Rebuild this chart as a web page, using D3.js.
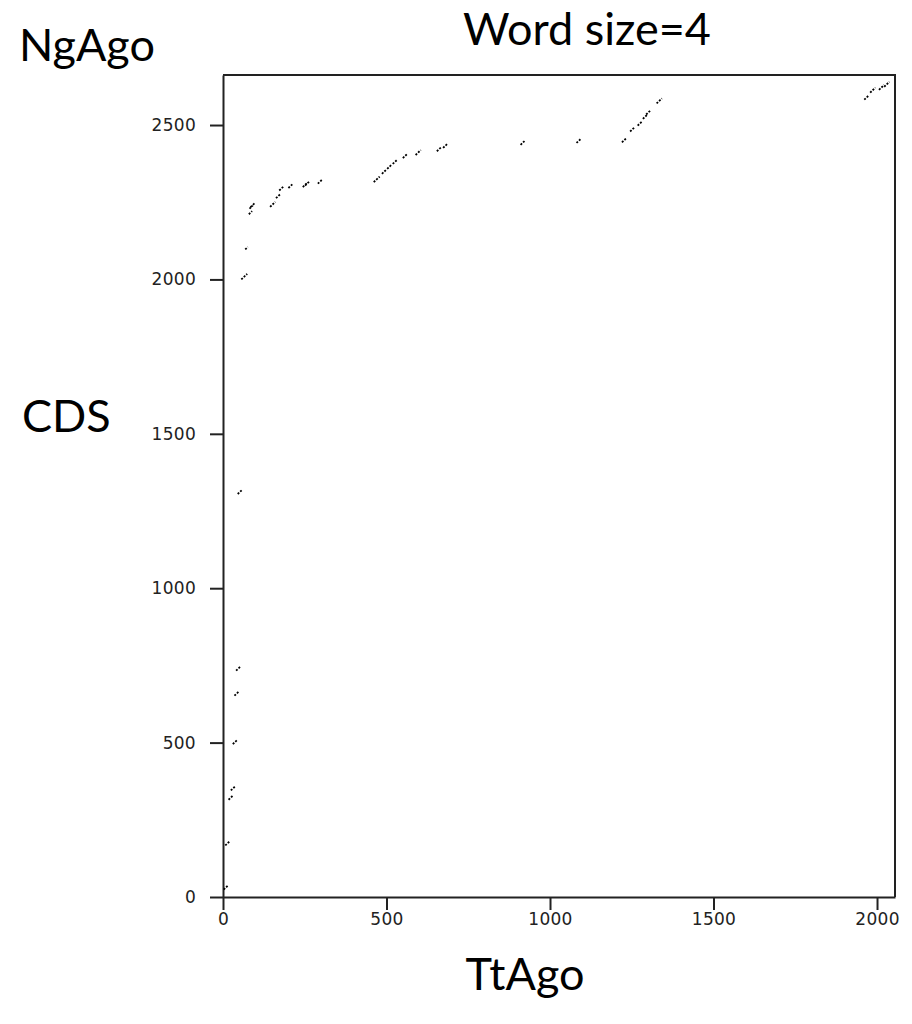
<!DOCTYPE html>
<html>
  <head>
    <meta charset="UTF-8"/>
    <script src="https://d3js.org/d3.v7.min.js"></script>
    <style>
      body{
        margin: 0;
        background: white;
      }
      .tick text{
        font-family: 'DejaVu Sans', sans-serif;
        font-size: 17px;
        letter-spacing: 0.3px;
        fill: #222;
      }
      .big{
        font-family: Lato, 'Open Sans', sans-serif;
        font-size: 45px;
        fill: black;
      }
    </style>
  </head>
  <body>
    <script>
      // word matches: start on TtAgo, start on NgAgo, length
      const matchX = [9, 14, 24, 31, 37, 42, 47, 52, 65, 72, 84, 86, 91, 152, 169, 179, 207, 251, 258, 297,
                      470, 493, 509, 526, 557, 597, 661, 680, 917, 1087, 1227, 1252, 1275, 1291, 1301, 1334,
                      1968, 1987, 2014, 2030];
      const matchY = [31, 174, 322, 352, 502, 659, 740, 1312, 2009, 2101, 2216, 2234, 2241, 2243, 2270, 2295, 2303, 2306, 2311, 2317,
                      2324, 2349, 2365, 2381, 2400, 2411, 2422, 2433, 2443, 2448, 2451, 2486, 2505, 2527, 2541, 2578,
                      2589, 2613, 2622, 2632];
      const matchLen = [14, 14, 14, 14, 14, 14, 14, 14, 18, 8, 10, 10, 14, 16, 14, 14, 14, 14, 14, 14,
                        18, 14, 14, 14, 14, 16, 14, 14, 14, 12, 14, 14, 14, 14, 14, 16,
                        14, 16, 16, 16];
      const xTicks = [0, 500, 1000, 1500, 2000];
      const yTicks = [0, 500, 1000, 1500, 2000, 2500];

      const width = 912, height = 1024;
      const plotLeft = 223, plotRight = 895, plotTop = 75, plotBottom = 897;

      const svg = d3.select('body').append('svg')
                    .attr('width', width)
                    .attr('height', height);

      const xScale = d3.scaleLinear().domain([0, 2055]).range([plotLeft, plotRight]);
      const yScale = d3.scaleLinear().domain([0, 2662]).range([plotBottom, plotTop]);

      const xAxis = d3.axisBottom(xScale).tickValues(xTicks).tickFormat(d3.format('d'))
                      .tickSize(13).tickSizeOuter(0).tickPadding(3);
      const yAxis = d3.axisLeft(yScale).tickValues(yTicks).tickFormat(d3.format('d'))
                      .tickSize(13).tickSizeOuter(0).tickPadding(14);

      svg.append('g')
         .attr('transform', 'translate(0,' + plotBottom + ')')
         .call(xAxis);
      svg.append('g')
         .attr('transform', 'translate(' + plotLeft + ',0)')
         .call(yAxis);

      svg.selectAll('.domain, .tick line')
         .attr('stroke', '#222')
         .attr('stroke-width', 2);

      // top and right edges of the frame
      svg.append('path')
         .attr('d', 'M' + plotLeft + ',' + plotTop + 'H' + plotRight + 'V' + plotBottom)
         .attr('fill', 'none')
         .attr('stroke', '#222')
         .attr('stroke-width', 2);

      svg.selectAll('.match')
         .data(matchX)
         .enter()
         .append('line')
         .attr('class', 'match')
         .attr('x1', (d, i) => xScale(d - matchLen[i] / 2))
         .attr('y1', (d, i) => yScale(matchY[i] - matchLen[i] / 2))
         .attr('x2', (d, i) => xScale(d + matchLen[i] / 2))
         .attr('y2', (d, i) => yScale(matchY[i] + matchLen[i] / 2))
         .attr('stroke', '#000')
         .attr('stroke-width', 1.8)
         .attr('stroke-dasharray', '2,1.4');

      svg.append('text').attr('class', 'big')
         .attr('x', 587).attr('y', 45)
         .attr('text-anchor', 'middle')
         .text('Word size=4');
      svg.append('text').attr('class', 'big')
         .attr('x', 19).attr('y', 61)
         .text('NgAgo');
      svg.append('text').attr('class', 'big')
         .attr('x', 22).attr('y', 432)
         .text('CDS');
      svg.append('text').attr('class', 'big')
         .attr('x', 525).attr('y', 990)
         .attr('text-anchor', 'middle')
         .text('TtAgo');
    </script>
  </body>
</html>
